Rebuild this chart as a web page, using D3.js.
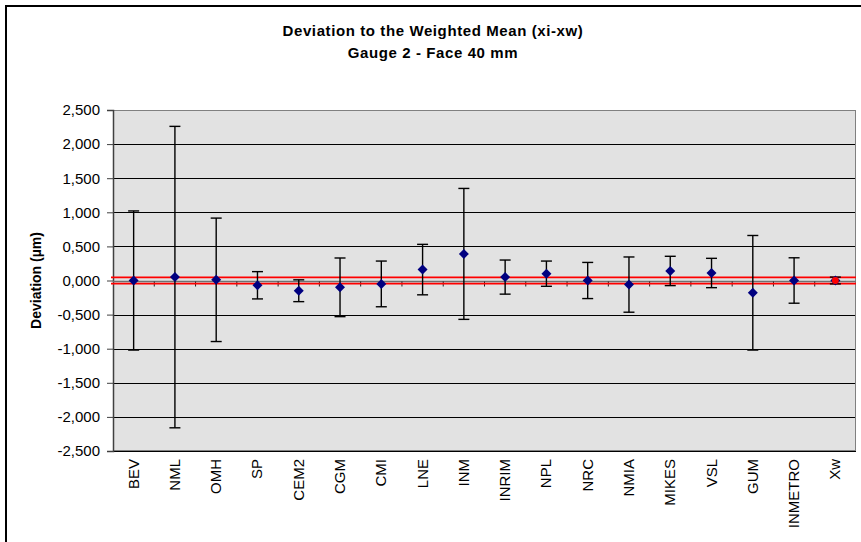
<!DOCTYPE html>
<html>
<head>
<meta charset="utf-8">
<script src="https://cdn.jsdelivr.net/npm/d3@7/dist/d3.min.js"></script>
<style>
  html, body { margin: 0; padding: 0; background: #ffffff; }
  svg { display: block; font-family: "Liberation Sans", Arial, sans-serif; }
</style>
</head>
<body>
<svg id="chart" width="861" height="542"></svg>
<script>
// ---- data ----
const titleLines = ["Deviation to the Weighted Mean (xi-xw)", "Gauge 2 - Face 40 mm"];
const yAxisTitle = "Deviation (µm)";
const categories = ["BEV", "NML", "OMH", "SP", "CEM2", "CGM", "CMI", "LNE", "INM", "INRIM",
                    "NPL", "NRC", "NMIA", "MIKES", "VSL", "GUM", "INMETRO", "Xw"];
const deviations = [0.00, 0.05, 0.01, -0.07, -0.15, -0.10, -0.05, 0.16, 0.39, 0.05,
                    0.10, 0.00, -0.06, 0.14, 0.11, -0.18, 0.00, 0.00];
const uncertainties = [1.02, 2.21, 0.905, 0.20, 0.16, 0.43, 0.335, 0.37, 0.96, 0.25,
                       0.185, 0.265, 0.405, 0.215, 0.215, 0.84, 0.333, 0.05];
const referenceLines = [0.045, -0.045];
const yTicks = [-2.5, -2.0, -1.5, -1.0, -0.5, 0.0, 0.5, 1.0, 1.5, 2.0, 2.5];

// ---- layout ----
const plot = { left: 113, right: 856, top: 110, bottom: 451 };
const svg = d3.select("#chart");

// outer chart border (only top/left visible in frame)
svg.append("rect")
  .attr("x", 6).attr("y", 6).attr("width", 900).attr("height", 600)
  .attr("fill", "#ffffff").attr("stroke", "#000000").attr("stroke-width", 2);

const x = d3.scaleBand().domain(categories).range([plot.left, plot.right]).padding(0);
const y = d3.scaleLinear().domain([-2.5, 2.5]).range([plot.bottom, plot.top]);

const fmt = v => {
  const s = d3.format(".3f")(Math.abs(v)).replace(".", ",");
  return (v < 0 ? "-" : "") + s;
};

// plot background
svg.append("rect")
  .attr("x", plot.left).attr("y", plot.top)
  .attr("width", plot.right - plot.left).attr("height", plot.bottom - plot.top)
  .attr("fill", "#e2e2e2");

// gridlines
svg.append("g").selectAll("line")
  .data(yTicks.filter(t => t !== 0))
  .join("line")
  .attr("x1", plot.left).attr("x2", plot.right)
  .attr("y1", d => Math.round(y(d)) + 0.5).attr("y2", d => Math.round(y(d)) + 0.5)
  .attr("stroke", "#000000").attr("stroke-width", 1);

// plot border
svg.append("rect")
  .attr("x", plot.left + 0.5).attr("y", plot.top + 0.5)
  .attr("width", plot.right - plot.left - 1).attr("height", plot.bottom - plot.top - 1)
  .attr("fill", "none").attr("stroke", "#808080").attr("stroke-width", 1);

// y axis
const yAxis = d3.axisLeft(y).tickValues(yTicks).tickFormat(fmt).tickSize(6).tickPadding(7);
const yg = svg.append("g").attr("transform", `translate(${plot.left},0)`).call(yAxis);
yg.select(".domain").attr("stroke", "#404040").attr("stroke-width", 1.5);
yg.selectAll(".tick line").attr("stroke", "#404040");
yg.selectAll(".tick text")
  .attr("font-size", 15).attr("fill", "#000000")
  .attr("font-family", "'Liberation Sans', Arial, sans-serif");

// x axis at zero
const xAxisY = y(0) + 1;
svg.append("line")
  .attr("x1", plot.left).attr("x2", plot.right)
  .attr("y1", xAxisY).attr("y2", xAxisY)
  .attr("stroke", "#707070").attr("stroke-width", 1.5);
const boundaries = categories.map(c => x(c)).concat([plot.right]);
svg.append("g").selectAll("line")
  .data(boundaries.slice(1, -1))
  .join("line")
  .attr("x1", d => d).attr("x2", d => d)
  .attr("y1", xAxisY).attr("y2", xAxisY + 5)
  .attr("stroke", "#202020").attr("stroke-width", 1);

// reference (red) lines
svg.append("g").selectAll("line")
  .data(referenceLines)
  .join("line")
  .attr("x1", plot.left - 2).attr("x2", plot.right)
  .attr("y1", d => y(d)).attr("y2", d => y(d))
  .attr("stroke", "#ff0000").attr("stroke-width", 1.7);

// category labels (rotated)
svg.append("g").selectAll("text")
  .data(categories)
  .join("text")
  .attr("transform", d => `translate(${x(d) + x.bandwidth() / 2 + 5},459) rotate(-90)`)
  .attr("text-anchor", "end")
  .attr("font-size", 15)
  .attr("fill", "#000000")
  .text(d => d);

// error bars
const rows = categories.map((c, i) => ({ c, v: deviations[i], u: uncertainties[i] }));
const capHalf = 5.5;
const eb = svg.append("g").attr("stroke", "#000000").attr("stroke-width", 1.4);
rows.forEach(r => {
  const cx = x(r.c) + x.bandwidth() / 2;
  eb.append("line").attr("x1", cx).attr("x2", cx)
    .attr("y1", y(r.v + r.u)).attr("y2", y(r.v - r.u));
  eb.append("line").attr("x1", cx - capHalf).attr("x2", cx + capHalf)
    .attr("y1", y(r.v + r.u)).attr("y2", y(r.v + r.u));
  eb.append("line").attr("x1", cx - capHalf).attr("x2", cx + capHalf)
    .attr("y1", y(r.v - r.u)).attr("y2", y(r.v - r.u));
});

// markers (navy diamonds)
svg.append("g").selectAll("path")
  .data(rows)
  .join("path")
  .attr("d", d3.symbol().type(d3.symbolSquare).size(50))
  .attr("transform", d => `translate(${x(d.c) + x.bandwidth() / 2},${y(d.v)}) rotate(45)`)
  .attr("fill", "#000080");

// weighted mean marker (red dot on top of Xw)
svg.append("g").selectAll("circle")
  .data(rows.filter(r => r.c === "Xw"))
  .join("circle")
  .attr("cx", d => x(d.c) + x.bandwidth() / 2)
  .attr("cy", d => y(d.v))
  .attr("r", 3.4)
  .attr("fill", "#ff0000");

// titles
svg.append("g").selectAll("text")
  .data(titleLines)
  .join("text")
  .attr("x", 433)
  .attr("y", (d, i) => 36 + i * 22)
  .attr("text-anchor", "middle")
  .attr("font-size", 15)
  .attr("font-weight", "bold")
  .attr("letter-spacing", "0.6px")
  .attr("fill", "#000000")
  .text(d => d);

// y axis title
svg.append("text")
  .attr("transform", `translate(41,${(plot.top + plot.bottom) / 2}) rotate(-90)`)
  .attr("text-anchor", "middle")
  .attr("font-size", 14)
  .attr("font-weight", "bold")
  .attr("fill", "#000000")
  .text(yAxisTitle);
</script>
</body>
</html>
